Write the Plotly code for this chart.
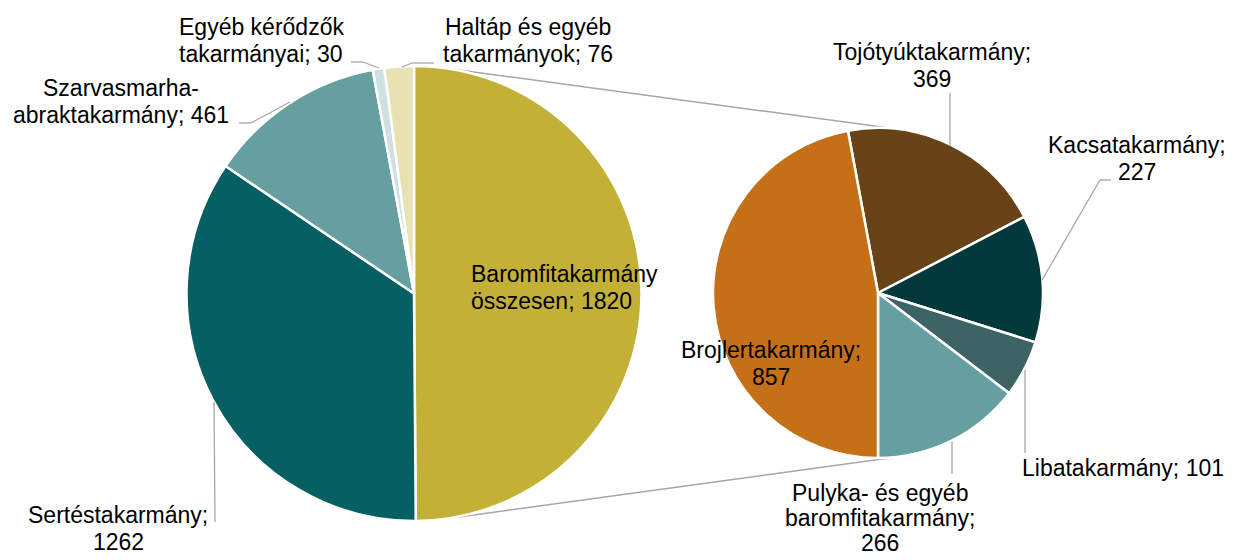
import math
import plotly.graph_objects as go

# ---------------- data ----------------
main_labels = ["Baromfitakarmány összesen", "Sertéstakarmány",
               "Szarvasmarha-abraktakarmány", "Egyéb kérődzők takarmányai",
               "Haltáp és egyéb takarmányok"]
main_values = [1820, 1262, 461, 30, 76]
main_colors = ["#C3B037", "#065F62", "#669F9F", "#CFE0E2", "#E8E1B3"]

sub_labels = ["Tojótyúktakarmány", "Kacsatakarmány", "Libatakarmány",
              "Pulyka- és egyéb baromfitakarmány", "Brojlertakarmány"]
sub_values = [369, 227, 101, 266, 857]
sub_colors = ["#674317", "#03393A", "#3D6364", "#669F9F", "#C57017"]

# label text lines (label text built from names + values)
main_label_lines = [["Baromfitakarmány", "összesen; {v}"],
                    ["Sertéstakarmány;", "{v}"],
                    ["Szarvasmarha-", "abraktakarmány; {v}"],
                    ["Egyéb kérődzők", "takarmányai; {v}"],
                    ["Haltáp és egyéb", "takarmányok; {v}"]]
sub_label_lines = [["Tojótyúktakarmány;", "{v}"],
                   ["Kacsatakarmány;", "{v}"],
                   ["Libatakarmány; {v}"],
                   ["Pulyka- és egyéb", "baromfitakarmány;", "{v}"],
                   ["Brojlertakarmány;", "{v}"]]

# ---------------- layout geometry (pixels) ----------------
W, H = 1238, 560
C1, R1 = (414.0, 293.5), 227.5
C2, R2 = (878.0, 293.0), 165.0
FONT = "Liberation Sans, Arial, sans-serif"
FS = 23
GRAY = "#A6A6A6"


def px(x, y):
    return x / W, 1 - y / H


def domain(c, r):
    return dict(x=[(c[0] - r) / W, (c[0] + r) / W],
                y=[1 - (c[1] + r) / H, 1 - (c[1] - r) / H])


# secondary pie rotation: Brojler occupies the left side ending at the bottom
sub_total = sum(sub_values)
sub_rot = 180 - 360 * sum(sub_values[:-1]) / sub_total

fig = go.Figure()
fig.add_trace(go.Pie(labels=main_labels, values=main_values, sort=False,
                     direction="clockwise", rotation=0,
                     marker=dict(colors=main_colors, line=dict(color="white", width=2.5)),
                     textinfo="none", hoverinfo="label+value",
                     domain=domain(C1, R1), showlegend=False))
fig.add_trace(go.Pie(labels=sub_labels, values=sub_values, sort=False,
                     direction="clockwise", rotation=sub_rot,
                     marker=dict(colors=sub_colors, line=dict(color="white", width=2.5)),
                     textinfo="none", hoverinfo="label+value",
                     domain=domain(C2, R2), showlegend=False))

# ---------------- label placement (style) ----------------
# (anchor x, first line center y, xanchor, line height)
main_pos = [(470, 274, "left", 27), (118, 515, "center", 27), (121, 88, "center", 27),
            (261, 27, "center", 27), (528, 27, "center", 27)]
sub_pos = [(932, 52, "center", 27), (1137, 145, "center", 27), (1123, 468, "center", 27),
           (880, 493, "center", 25), (771, 350, "center", 27)]

annotations = []


def add_label(lines, v, pos):
    x, y0, xa, lh = pos
    for i, ln in enumerate(lines):
        ax, ay = px(x, y0 + i * lh)
        annotations.append(dict(x=ax, y=ay, xref="paper", yref="paper",
                                text=ln.format(v=v), showarrow=False,
                                xanchor=xa, yanchor="middle", borderpad=0,
                                font=dict(family=FONT, size=FS, color="black")))


for lines, v, pos in zip(main_label_lines, main_values, main_pos):
    add_label(lines, v, pos)
for lines, v, pos in zip(sub_label_lines, sub_values, sub_pos):
    add_label(lines, v, pos)

# leader lines (pixel paths)
leaders = [
    [(351, 62), (363, 62), (379, 68)],          # Egyéb kérődzők
    [(434, 63), (412, 63), (402, 67)],          # Haltáp
    [(239, 123), (251, 123), (290, 102)],       # Szarvasmarha
    [(214, 402), (215, 522)],                   # Sertés
    [(950, 93), (950, 146)],                    # Tojótyúk
    [(1111, 180), (1100, 180), (1042, 280)],    # Kacsa
    [(1025, 370), (1025, 453)],                 # Liba
    [(952, 442), (952, 474)],                   # Pulyka
]
shapes = []
for pts in leaders:
    for (xa, ya), (xb, yb) in zip(pts[:-1], pts[1:]):
        x0, y0 = px(xa, ya)
        x1, y1 = px(xb, yb)
        shapes.append(dict(type="line", xref="paper", yref="paper",
                           x0=x0, y0=y0, x1=x1, y1=y1,
                           line=dict(color=GRAY, width=1.3), layer="above"))

# connector lines: external tangents between the two pies
d = C2[0] - C1[0]
s = (R1 - R2) / d
cth = math.sqrt(1 - s * s)
for sign in (-1, 1):
    p1 = (C1[0] + R1 * s, C1[1] + sign * R1 * cth)
    p2 = (C2[0] + R2 * s, C2[1] + sign * R2 * cth)
    x0, y0 = px(*p1)
    x1, y1 = px(*p2)
    shapes.append(dict(type="line", xref="paper", yref="paper",
                       x0=x0, y0=y0, x1=x1, y1=y1,
                       line=dict(color=GRAY, width=1.5), layer="below"))

fig.update_layout(width=W, height=H, margin=dict(l=0, r=0, t=0, b=0),
                  paper_bgcolor="white", plot_bgcolor="white",
                  annotations=annotations, shapes=shapes,
                  font=dict(family=FONT, size=FS, color="black"))

fig.write_html("out.html", config={"displayModeBar": False},
               post_script="document.body.style.margin='0px';"
                           "document.body.style.overflow='hidden';")
